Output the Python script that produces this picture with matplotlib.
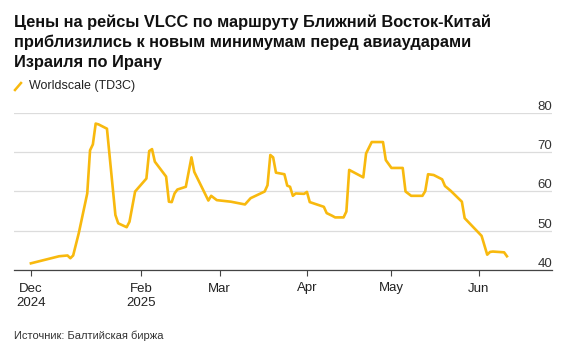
import matplotlib
matplotlib.use("Agg")
import matplotlib.pyplot as plt
import numpy as np
import pandas as pd

plt.rcParams['font.family'] = ['Liberation Sans', 'DejaVu Sans']

# Worldscale TD3C (Middle East - China)
dates = ["2024-12-24", "2025-01-03", "2025-01-06", "2025-01-07", "2025-01-08",
         "2025-01-10", "2025-01-13", "2025-01-14", "2025-01-15", "2025-01-16",
         "2025-01-17", "2025-01-20", "2025-01-23", "2025-01-24", "2025-01-27",
         "2025-01-28", "2025-01-30", "2025-02-03", "2025-02-04", "2025-02-05",
         "2025-02-06", "2025-02-10", "2025-02-11", "2025-02-12", "2025-02-13",
         "2025-02-14", "2025-02-17", "2025-02-19", "2025-02-20", "2025-02-25",
         "2025-02-26", "2025-02-28", "2025-03-05", "2025-03-10", "2025-03-12",
         "2025-03-17", "2025-03-18", "2025-03-19", "2025-03-20", "2025-03-21",
         "2025-03-24", "2025-03-25", "2025-03-26", "2025-03-27", "2025-03-28",
         "2025-03-31", "2025-04-01", "2025-04-02", "2025-04-07", "2025-04-08",
         "2025-04-10", "2025-04-11", "2025-04-14", "2025-04-15", "2025-04-16",
         "2025-04-21", "2025-04-22", "2025-04-24", "2025-04-28", "2025-04-29",
         "2025-05-01", "2025-05-05", "2025-05-06", "2025-05-08", "2025-05-12",
         "2025-05-13", "2025-05-14", "2025-05-16", "2025-05-19", "2025-05-20",
         "2025-05-22", "2025-05-26", "2025-05-27", "2025-06-02", "2025-06-04",
         "2025-06-05", "2025-06-06", "2025-06-10", "2025-06-11"]
values = [41.7, 43.5, 43.7, 43.0, 43.7,
          49.4, 59.5, 70.5, 72.0, 77.3,
          77.1, 76.0, 54.0, 51.9, 50.9,
          52.3, 60.0, 63.3, 70.3, 70.8,
          67.6, 63.8, 57.4, 57.3, 59.5,
          60.5, 61.2, 68.7, 65.0, 57.7,
          58.9, 57.8, 57.4, 56.7, 58.3,
          60.0, 61.6, 69.3, 68.7, 64.8,
          64.4, 61.5, 61.2, 58.9, 59.5,
          59.4, 59.9, 57.3, 56.1, 54.5,
          53.8, 53.4, 53.4, 54.9, 65.5,
          63.6, 69.7, 72.6, 72.6, 68.0,
          66.0, 66.0, 60.0, 58.9, 58.9,
          60.1, 64.4, 64.2, 63.1, 61.4,
          60.2, 57.4, 53.2, 48.7, 43.9,
          44.6, 44.7, 44.5, 43.5]

tick_dates = ["2024-12-24", "2025-02-01", "2025-03-01", "2025-04-01", "2025-05-01", "2025-06-01"]
tick_labels = ["Dec\n2024", "Feb\n2025", "Mar", "Apr", "May", "Jun"]
y_ticks = [40, 50, 60, 70, 80]

title = ("Цены на рейсы VLCC по маршруту Ближний Восток-Китай\n"
         "приблизились к новым минимумам перед авиаударами\n"
         "Израиля по Ирану")
legend_label = "Worldscale (TD3C)"
source = "Источник: Балтийская биржа"

line_color = "#F8B90E"

fig = plt.figure(figsize=(5.67, 3.54), dpi=100)
ax = fig.add_axes([14/567, 84/354, 538/567, 157/354])

x = pd.to_datetime(dates)
ax.plot(x, values, color=line_color, lw=1.9, solid_joinstyle='round')

ax.set_xlim(pd.Timestamp("2024-12-18"), pd.Timestamp("2025-06-27"))
ax.set_ylim(40, 80)

ax.set_yticks(y_ticks)
ax.yaxis.grid(True, color="#dcdcdc", lw=0.9)
ax.set_axisbelow(True)
ax.tick_params(axis='y', length=0, labelleft=False)
for v in y_ticks:
    ax.text(1.0, v, str(v), transform=ax.get_yaxis_transform(), ha='right', va='bottom',
            fontsize=9.5, color="#333333")

ax.set_xticks(pd.to_datetime(tick_dates))
ax.set_xticklabels(tick_labels, fontsize=9.5, color="#222222", linespacing=1.3)
ax.tick_params(axis='x', length=4, width=0.8, color="#444444", pad=5)

for s in ['top', 'right', 'left']:
    ax.spines[s].set_visible(False)
ax.spines['bottom'].set_color("#444444")
ax.spines['bottom'].set_linewidth(0.9)

fig.text(14/567, 1 - 14/354, title, ha='left', va='top', fontsize=11.8,
         fontweight='bold', color="#111111", linespacing=1.4)

# legend: short slanted stroke and label
fig.add_artist(plt.Line2D([15/567, 21/567], [1 - 90/354, 1 - 83/354], color=line_color, lw=1.8,
                          transform=fig.transFigure))
fig.text(29/567, 1 - 86.5/354, legend_label, ha='left', va='center', fontsize=9, color="#222222")

fig.text(14/567, 1 - 336/354, source, ha='left', va='center', fontsize=8, color="#333333")

fig.savefig("out.png", dpi=100)
